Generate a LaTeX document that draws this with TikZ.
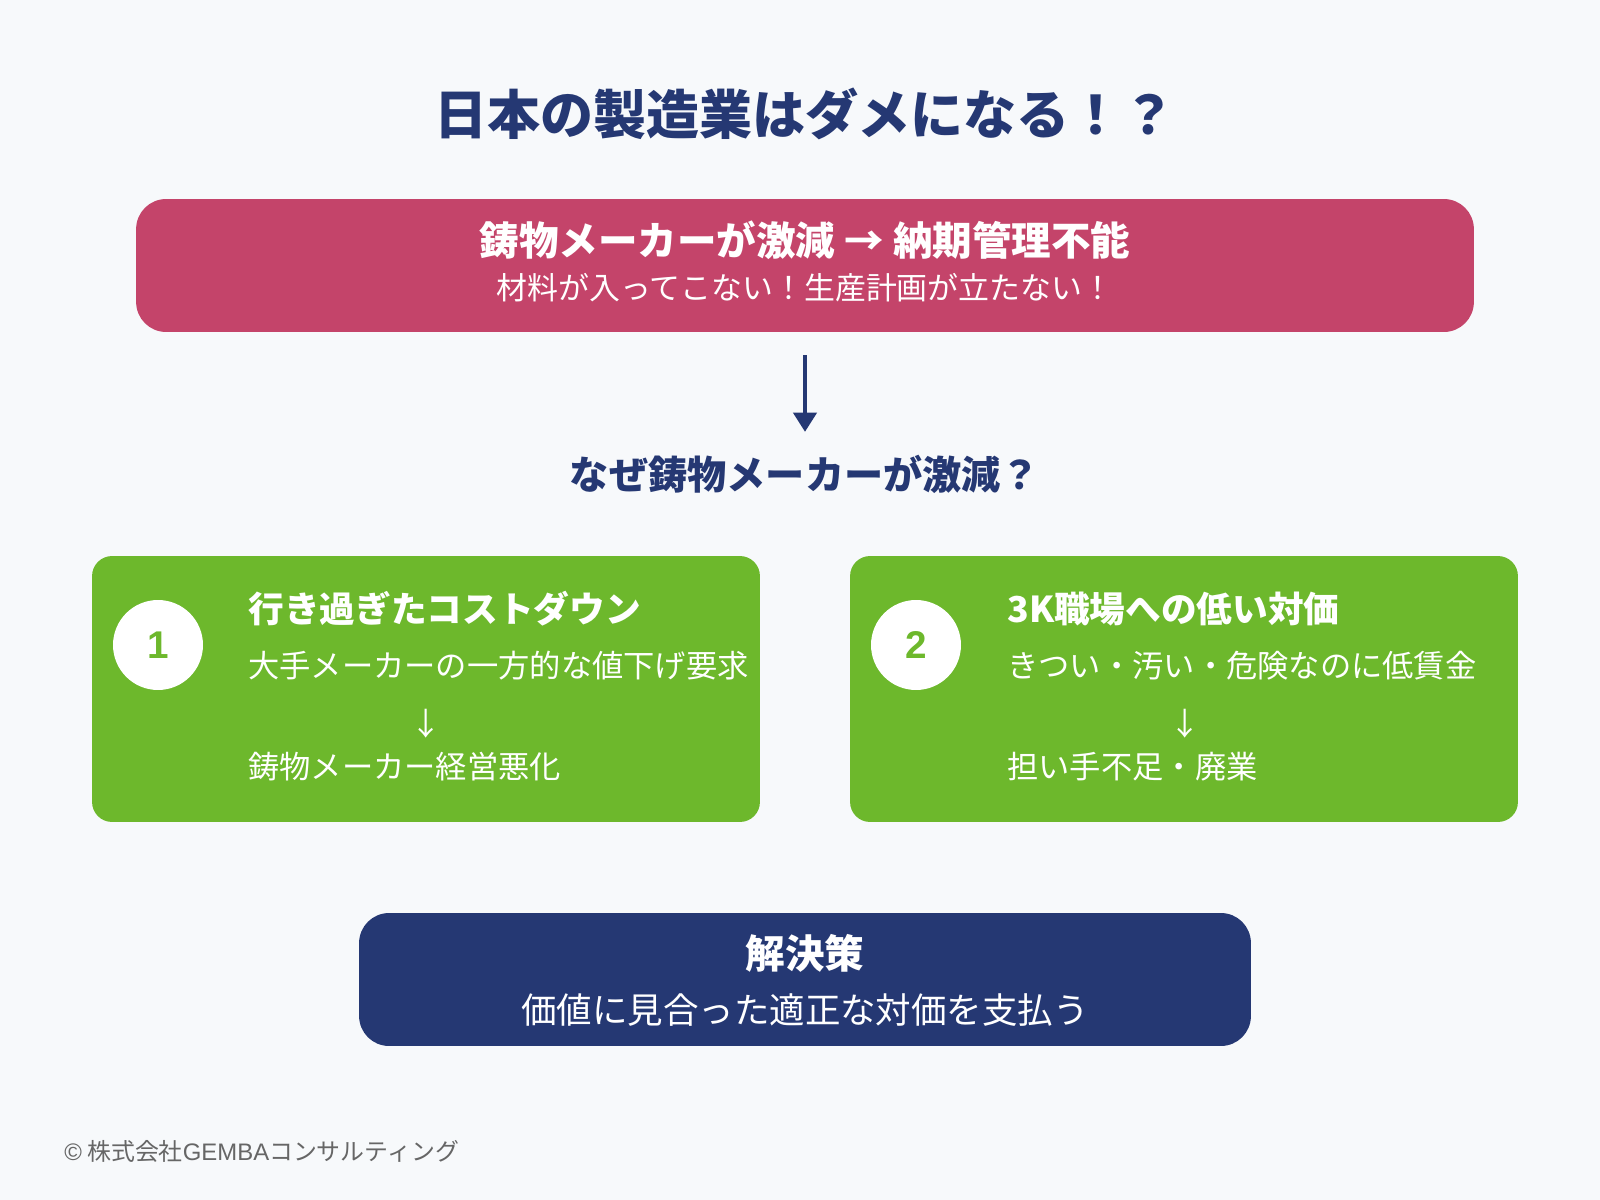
\documentclass[tikz,border=0pt]{standalone}
\usepackage{fontspec}
\setmainfont{Noto Sans CJK JP}
\newfontfamily\latinfont{Liberation Sans}
\usepackage{tikz}
\usetikzlibrary{arrows.meta}

\definecolor{bgpaper}{HTML}{F7F9FB}
\definecolor{navy}{HTML}{253873}
\definecolor{alertred}{HTML}{C4446A}
\definecolor{causegreen}{HTML}{6DB82C}
\definecolor{footgray}{HTML}{666666}

\begin{document}
\begin{tikzpicture}[x=0.02cm, y=-0.02cm,
    panel/.style={rounded corners=0.6cm, inner sep=0pt},
    causebox/.style={fill=causegreen, rounded corners=0.4cm, inner sep=0pt, minimum width=13.36cm, minimum height=5.32cm},
    numdisc/.style={circle, fill=white, inner sep=0pt, minimum size=1.8cm, text=causegreen, font=\latinfont\fontsize{22}{26}\selectfont\bfseries},
    whitetext/.style={text=white, inner sep=0pt},
    cjkhead/.style={whitetext, anchor=west, font=\fontsize{20.3}{24}\selectfont\bfseries},
    cjkline/.style={whitetext, anchor=west, font=\fontsize{17.8}{21}\selectfont}]
    \fill[bgpaper] (0,0) rectangle (1600,1200);
    \useasboundingbox (0,0) rectangle (1600,1200);

    % title
    \node[text=navy, inner sep=0pt, font=\fontsize{30.2}{35}\selectfont\bfseries] (title) at (805,114) {日本の製造業はダメになる！？};

    % problem
    \node[panel, fill=alertred, minimum width=26.76cm, minimum height=2.66cm] (problem) at (805,265.5) {};
    \node[whitetext, font=\fontsize{22.5}{26}\selectfont\bfseries] (probhead) at (805,240) {鋳物メーカーが激減 → 納期管理不能};
    \node[whitetext, font=\fontsize{17.6}{21}\selectfont] (probline) at (805,288) {材料が入ってこない！生産計画が立たない！};

    \node[text=navy, inner sep=0pt, font=\fontsize{22.3}{26}\selectfont\bfseries] (why) at (805,474) {なぜ鋳物メーカーが激減？};
    \draw[navy, line width=2.8pt, -{Triangle[width=13pt, length=11pt]}, shorten <=0.46cm, shorten >=0.45cm] (problem.south) -- (why.north);

    % cause 1
    \node[causebox] (cause1) at (426,689) {};
    \node[numdisc] (num1) at (158,645) {1};
    \node[cjkhead] (head1) at (248,609) {行き過ぎたコストダウン};
    \node[cjkline] (line1a) at (248,666) {大手メーカーの一方的な値下げ要求};
    \node[whitetext, font=\fontsize{17.8}{21}\selectfont] (arr1) at (426,724) {↓};
    \node[cjkline] (line1b) at (248,767) {鋳物メーカー経営悪化};

    % cause 2
    \node[causebox] (cause2) at (1184,689) {};
    \node[numdisc] (num2) at (916,645) {2};
    \node[cjkhead] (head2) at (1007,609) {3K職場への低い対価};
    \node[cjkline] (line2a) at (1007,666) {きつい・汚い・危険なのに低賃金};
    \node[whitetext, font=\fontsize{17.8}{21}\selectfont] (arr2) at (1185,724) {↓};
    \node[cjkline] (line2b) at (1007,767) {担い手不足・廃業};

    % solution
    \node[panel, fill=navy, minimum width=17.84cm, minimum height=2.66cm] (solution) at (805,979.5) {};
    \node[whitetext, font=\fontsize{22.5}{26}\selectfont\bfseries] (solhead) at (805,953) {解決策};
    \node[whitetext, font=\fontsize{20.2}{24}\selectfont] (solline) at (805,1010) {価値に見合った適正な対価を支払う};

    \node[text=footgray, anchor=west, inner sep=0pt, font=\fontsize{13.6}{16}\selectfont] (footer) at (64,1151) {{\latinfont ©} 株式会社{\latinfont GEMBA}コンサルティング};
\end{tikzpicture}
\end{document}
